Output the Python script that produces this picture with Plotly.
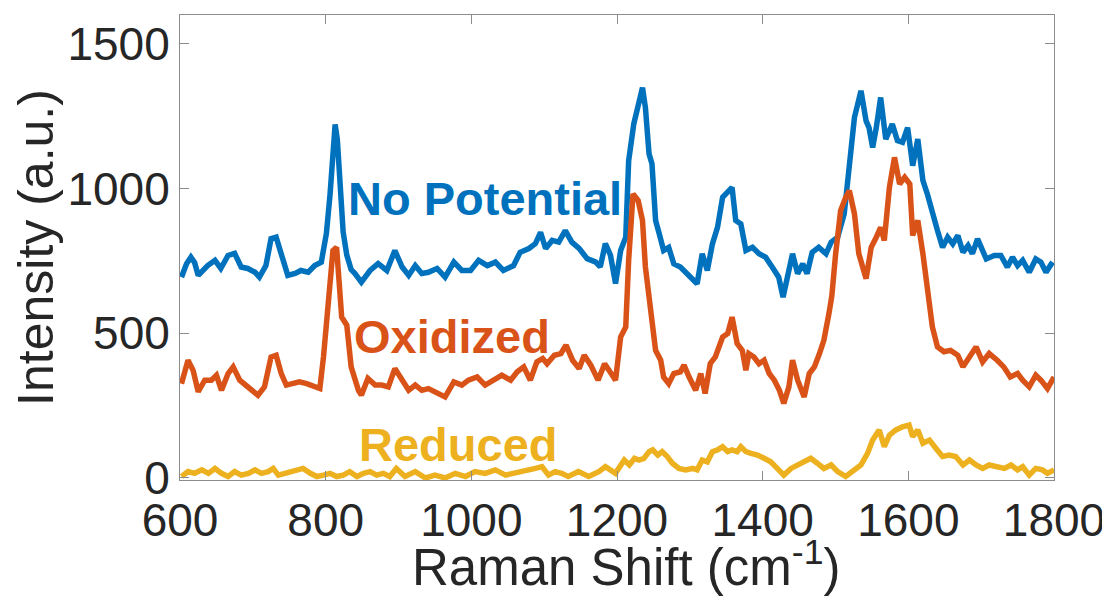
import plotly.graph_objects as go

# ---- data (Raman shift in cm^-1, intensity in a.u.) ----
x_nopot = [602,609,615,620,625,632,638,648,656,666,
           675,684,693,703,709,718,725,732,739,748,
           758,766,776,785,794,801,806,810,813,816,
           820,824,829,835,840,849,861,872,884,895,
           905,914,923,932,941,953,964,976,987,999,
           1010,1022,1033,1044,1058,1067,1079,1088,1095,1102,
           1111,1120,1129,1138,1148,1159,1171,1177,1184,1191,
           1198,1205,1212,1216,1223,1230,1235,1239,1244,1248,
           1253,1258,1264,1271,1278,1287,1297,1306,1310,1317,
           1324,1331,1338,1345,1352,1358,1363,1370,1377,1386,
           1395,1404,1413,1422,1428,1434,1441,1448,1455,1461,
           1468,1477,1487,1494,1503,1512,1519,1526,1535,1542,
           1546,1551,1556,1562,1569,1578,1585,1592,1599,1606,
           1613,1620,1626,1633,1640,1647,1654,1661,1668,1675,
           1682,1688,1695,1707,1718,1727,1736,1743,1750,1757,
           1766,1775,1782,1789,1798]
y_nopot = [694,740,763,745,700,720,734,752,724,769,
           776,729,724,711,694,734,827,832,776,700,
           707,717,711,734,746,845,980,1160,1222,1170,
           1000,850,770,720,707,677,717,741,717,786,
           729,700,734,707,711,724,694,746,717,717,
           752,734,746,717,734,780,793,810,849,793,
           821,815,855,815,793,758,746,729,810,770,
           672,786,832,1096,1223,1292,1349,1280,1120,1086,
           890,844,786,797,740,729,706,683,671,775,
           717,809,866,970,987,1004,890,878,786,797,
           775,763,729,694,625,694,775,706,740,706,
           780,797,775,815,832,913,1062,1246,1338,1234,
           1211,1142,1211,1315,1171,1223,1166,1160,1211,1079,
           1171,1028,982,913,855,797,832,809,838,780,
           803,775,826,757,769,769,729,763,734,752,
           711,757,746,711,746]

x_ox = [602,611,618,625,634,643,650,657,666,673,
        682,691,700,707,716,725,732,739,746,755,
        764,774,783,792,797,803,810,815,822,829,
        835,845,849,858,868,877,886,895,905,914,
        923,932,941,950,964,976,987,996,1008,1019,
        1031,1042,1054,1063,1072,1081,1090,1098,1104,1114,
        1123,1130,1139,1148,1155,1164,1174,1183,1192,1198,
        1205,1212,1216,1222,1229,1235,1239,1246,1253,1260,
        1264,1271,1278,1287,1292,1299,1308,1315,1321,1328,
        1335,1345,1352,1358,1365,1372,1377,1381,1388,1395,
        1402,1409,1416,1423,1429,1436,1441,1448,1457,1464,
        1471,1478,1484,1491,1495,1500,1507,1514,1519,1526,
        1532,1542,1549,1556,1562,1567,1574,1581,1588,1595,
        1602,1606,1613,1620,1626,1633,1640,1649,1658,1668,
        1675,1684,1693,1702,1711,1722,1731,1740,1750,1757,
        1766,1775,1782,1791,1800]
y_ox = [326,407,372,298,338,338,355,303,361,384,
        338,321,303,286,315,418,424,361,321,326,
        332,326,315,309,418,614,786,797,556,528,
        384,303,286,344,321,321,315,378,338,303,
        321,303,309,298,280,332,321,338,349,321,
        338,355,338,367,384,338,401,413,395,424,
        430,459,407,378,424,390,338,395,361,338,
        487,522,752,982,959,890,729,602,441,407,
        349,326,361,367,390,349,303,361,292,395,
        418,487,499,556,464,441,372,430,418,395,
        407,361,338,303,258,315,407,338,280,361,
        384,430,476,568,630,770,924,970,993,913,
        775,689,797,832,866,821,1004,1108,1016,1039,
        1016,838,890,775,660,522,453,436,441,424,
        384,418,453,401,430,407,384,349,361,338,
        315,355,338,309,349]

x_red = [602,611,620,630,639,648,657,666,675,684,
         694,703,712,721,728,735,744,753,763,769,
         779,788,797,806,815,824,833,843,852,861,
         870,879,888,897,909,923,937,950,964,978,
         992,1005,1019,1033,1047,1060,1074,1088,1097,1106,
         1115,1124,1133,1147,1161,1175,1184,1198,1201,1210,
         1217,1224,1230,1237,1244,1249,1256,1262,1269,1276,
         1285,1294,1304,1310,1317,1324,1331,1338,1345,1352,
         1358,1365,1370,1377,1384,1393,1402,1411,1420,1429,
         1439,1448,1457,1466,1475,1484,1494,1503,1514,1526,
         1535,1544,1551,1560,1567,1574,1583,1592,1601,1606,
         1613,1620,1629,1638,1647,1656,1665,1675,1684,1693,
         1702,1711,1723,1732,1741,1750,1757,1766,1775,1784,
         1791,1800]
y_red = [5,22,16,28,16,33,16,5,22,10,
         16,28,16,22,33,10,16,22,28,33,
         16,5,10,16,5,10,22,5,16,22,
         10,16,5,33,5,22,0,10,0,16,
         5,22,16,28,10,16,22,33,39,10,
         22,16,5,22,5,22,39,16,28,62,
         45,68,62,68,91,97,79,91,74,51,
         33,28,33,28,62,56,91,97,108,91,
         97,91,108,91,85,79,68,56,33,10,
         33,45,56,68,51,33,45,22,5,28,
         45,85,131,166,108,148,166,177,183,143,
         166,120,131,102,74,79,74,45,62,45,
         33,45,39,33,45,28,39,10,33,28,
         16,28]

assert len(x_nopot) == len(y_nopot)
assert len(x_ox) == len(y_ox)
assert len(x_red) == len(y_red)

series_names = ["No Potential", "Oxidized", "Reduced"]
colors = ["#0072BD", "#D95319", "#EDB120"]
label_x = [1019, 974, 982]
label_y = [966, 490, 117]

x_ticks = [600, 800, 1000, 1200, 1400, 1600, 1800]
y_ticks = [0, 500, 1000, 1500]
x_title = "Raman Shift (cm<sup>-1</sup>)"
y_title = "Intensity (a.u.)"

FONT = "Liberation Sans, Arial, Helvetica, sans-serif"
TEXT = "#262626"

fig = go.Figure()
for xs, ys, name, c in zip([x_nopot, x_ox, x_red], [y_nopot, y_ox, y_red], series_names, colors):
    fig.add_trace(go.Scatter(x=xs, y=ys, mode="lines", name=name,
                             line=dict(color=c, width=5.5), showlegend=False))

for name, c, lx, ly in zip(series_names, colors, label_x, label_y):
    fig.add_annotation(x=lx, y=ly, text="<b>%s</b>" % name, showarrow=False,
                       xanchor="center", yanchor="middle",
                       font=dict(family=FONT, size=47, color=c))

# x-axis title placed as a paper annotation so it sits as close as in the reference
fig.add_annotation(x=0.5, y=0, xref="paper", yref="paper", text=x_title,
                   showarrow=False, xanchor="center", yanchor="top", yshift=-50,
                   xshift=9, font=dict(family=FONT, size=51, color=TEXT))

axis_common = dict(showline=True, mirror="ticks", linecolor="#8c8c8c", linewidth=1,
                   ticks="inside", ticklen=9, tickcolor="#8c8c8c", tickwidth=1,
                   showgrid=False, zeroline=False,
                   tickfont=dict(family=FONT, size=46, color=TEXT))

fig.update_xaxes(range=[600, 1800], tickvals=x_ticks, ticktext=[str(v) for v in x_ticks],
                 **axis_common)
fig.update_yaxes(range=[-7, 1600], tickvals=y_ticks, ticktext=[str(v) for v in y_ticks],
                 title=dict(text=y_title, standoff=4,
                            font=dict(family=FONT, size=50, color=TEXT)),
                 **axis_common)

# the page body adds an 8px margin, so the figure is drawn 8px smaller
fig.update_layout(width=1102, height=597,
                  margin=dict(l=172, r=56, t=7, b=125, autoexpand=False),
                  paper_bgcolor="white", plot_bgcolor="white",
                  template="none")

fig.write_html("out.html")
